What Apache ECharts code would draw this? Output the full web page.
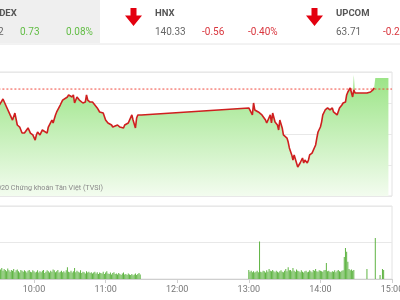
<!DOCTYPE html>
<html><head><meta charset="utf-8">
<script src="https://cdn.jsdelivr.net/npm/echarts@6/dist/echarts.min.js"></script>
<style>html,body{margin:0;padding:0;background:#fff;overflow:hidden}#c{width:400px;height:300px}</style>
</head><body><div id="c"></div>
<script>
// ---- header data ----
const indexNames = ["VN-INDEX", "HNX", "UPCOM"];
const indexValues = ["913.62", "140.33", "63.71"];
const indexChanges = ["0.73", "-0.56", "-0.24"];
const indexPercents = ["0.08%", "-0.40%", "-0.38%"];
const indexUp = [true, false, false];

// ---- intraday price (VN-INDEX) ----
const refPrice = 912.90;
const priceTimes = ["09:30","09:34","09:37","09:40","09:42","09:44","09:46","09:48","09:50","09:52","09:55","09:57","09:59","10:01","10:02","10:03","10:05","10:07","10:11","10:12","10:13","10:15","10:16","10:18","10:19","10:22","10:24","10:28","10:29","10:32","10:33","10:34","10:36","10:38","10:41","10:43","10:44","10:45","10:47","10:49","10:53","10:55","10:58","11:00","11:02","11:05","11:06","11:10","11:12","11:15","11:16","11:19","11:22","11:23","11:25","11:26","11:27","11:30",
"13:00","13:01","13:03","13:04","13:05","13:08","13:11","13:14","13:15","13:16","13:18","13:19","13:20","13:22","13:24","13:25","13:26","13:28","13:29","13:32","13:33","13:34","13:36","13:37","13:38","13:40","13:41","13:43","13:45","13:46","13:47","13:49","13:50","13:51","13:53","13:54","13:56","13:57","13:58","14:00","14:01","14:02","14:04","14:06","14:08","14:10","14:11","14:12","14:14","14:15","14:16","14:18","14:19","14:21","14:22","14:23","14:25","14:26","14:27","14:28","14:29","14:31","14:33","14:39","14:42","14:44","14:45"];
const priceValues = [911.74,912.26,911.74,911.23,910.90,911.35,910.58,910.45,910.06,910.06,910.39,910.06,909.94,909.61,909.94,910.13,909.94,910.26,910.06,910.45,910.45,910.90,910.71,911.23,911.42,911.87,912.19,912.39,912.52,912.39,912.52,912.00,912.39,912.19,912.00,912.06,912.52,912.19,912.06,912.06,911.68,911.42,911.35,910.90,910.71,910.58,910.45,910.58,910.45,910.39,910.58,910.71,911.23,910.90,910.39,911.03,911.23,911.23,
911.68,911.68,911.23,912.00,911.55,911.42,911.23,910.90,910.71,910.71,911.23,910.71,911.35,910.77,910.58,910.26,910.90,910.39,909.94,909.74,909.48,909.10,908.65,908.32,908.65,908.13,907.87,908.13,908.45,908.13,908.32,908.13,908.32,908.65,908.77,908.84,909.29,909.74,910.13,910.45,910.77,911.23,911.55,911.68,911.55,911.68,911.42,911.35,911.23,911.35,911.68,911.87,912.00,912.06,912.52,912.71,912.97,913.03,912.39,912.84,912.65,912.65,912.65,912.65,912.71,912.84,912.97];
// points that only the filled area shows (spike + closing auction block)
const areaExtraTimes = ["14:28", "14:46", "14:57"];
const areaExtraValues = [913.80, 913.62, 913.62];

// ---- volume ----
const volAMStart = "09:32";
const volAM = [105,120,90,110,100,85,115,95,80,100,
90,110,75,95,105,85,70,100,90,80,
95,85,70,90,100,80,75,95,85,70,
80,95,70,85,75,90,100,65,80,95,
85,70,90,80,105,95,75,85,100,70,
80,90,75,85,70,95,130,80,75,90,
70,85,120,75,90,80,70,95,65,80,
75,60,85,70,80,65,75,60,70,80,
60,75,55,70,65,60,80,55,70,85,
60,55,70,50,65,75,55,60,50,65,
55,45,60,70,50,55,45,60,50,45,
55,40,50,60,45,55,65,50];
const volPMStart = "13:00";
const volPM = [100,80,90,75,85,70,80,90,75,410,
80,75,90,85,70,95,80,110,90,85,
100,85,75,90,80,70,85,95,80,75,
90,110,85,130,95,100,85,120,90,80,
105,90,85,75,95,80,70,85,90,75,
80,95,85,75,100,90,110,85,80,95,
90,85,80,95,100,175,85,90,80,75,
85,80,95,75,90,100,85,80,90,95,
240,340,300,190,110,95,105,90,100];
const volATCTimes = ["14:39", "14:46", "14:50", "14:52", "14:53"];
const volATC = [110, 450, 45, 110, 100];

const timeTicks = ["09:00","10:00","11:00","12:00","13:00","14:00","15:00"];
const copyright = "©2020 Chứng khoán Tân Việt (TVSI)";

// ---- helpers ----
const toMin = s => { const p = s.split(":"); return (+p[0]) * 60 + (+p[1]); };
const fmt = m => { const h = Math.floor(m / 60), mm = Math.round(m % 60); return (h < 10 ? "0" : "") + h + ":" + (mm < 10 ? "0" : "") + mm; };

const lineData = priceTimes.map((t, i) => [toMin(t), priceValues[i]]);
const areaMap = new Map();
priceTimes.forEach((t, i) => areaMap.set(toMin(t), priceValues[i]));
areaExtraTimes.forEach((t, i) => areaMap.set(toMin(t), areaExtraValues[i]));
const areaData = Array.from(areaMap.entries()).sort((a, b) => a[0] - b[0]);

const volData = [];
volAM.forEach((v, i) => volData.push([toMin(volAMStart) + i, v]));
volPM.forEach((v, i) => volData.push([toMin(volPMStart) + i, v]));
volATCTimes.forEach((t, i) => volData.push([toMin(t), volATC[i]]));

const xMin = toMin(timeTicks[0]), xMax = toMin(timeTicks[timeTicks.length - 1]);
const refData = [[xMin, refPrice], [xMax, refPrice]];
const gridLeft = -37.6, gridRight = 8;

// ---- header graphics ----
const green = '#62bd45', red = '#d9363e';
const colX = [-27, 155, 336];
const graphics = [
  { type: 'rect', shape: { x: 0, y: 0, width: 100, height: 43 }, style: { fill: '#efefef' }, silent: true },
  { type: 'line', shape: { x1: 0, y1: 44, x2: 400, y2: 44 }, style: { stroke: '#e6e6e6', lineWidth: 1 }, silent: true }
];
indexNames.forEach((n, i) => {
  const x = colX[i];
  const c = indexUp[i] ? green : red;
  graphics.push({ type: 'text', x: x, y: 13.5, style: { text: n, fill: '#555', font: 'bold 9.5px Roboto', textVerticalAlign: 'middle' }, silent: true });
  graphics.push({ type: 'text', x: x, y: 32, style: { text: indexValues[i], fill: '#666', font: '10px Roboto', textVerticalAlign: 'middle' }, silent: true });
  graphics.push({ type: 'text', x: x + 47, y: 32, style: { text: indexChanges[i], fill: c, font: '10px Roboto', textVerticalAlign: 'middle' }, silent: true });
  graphics.push({ type: 'text', x: x + 93, y: 32, style: { text: indexPercents[i], fill: c, font: '10px Roboto', textVerticalAlign: 'middle' }, silent: true });
  if (!indexUp[i]) {
    const cx = x - 21.5;
    graphics.push({ type: 'polygon', shape: { points: [[cx - 3, 8], [cx + 3, 8], [cx + 3, 15.5], [cx + 8.5, 15.5], [cx, 26], [cx - 8.5, 15.5], [cx - 3, 15.5]] }, style: { fill: '#e3000f' }, silent: true });
  }
});
graphics.push({ type: 'text', x: 103, y: 188, style: { text: copyright, fill: '#8a8a8a', font: '7.2px Roboto', textAlign: 'right', textVerticalAlign: 'middle' }, silent: true, z: 10 });

const chart = echarts.init(document.getElementById('c'), null, { renderer: 'canvas' });
chart.setOption({
  animation: false,
  backgroundColor: '#fff',
  grid: [
    { left: gridLeft, right: gridRight, top: 72, height: 124, outerBoundsMode: 'none', containLabel: false, show: true, borderColor: '#e2e2e2', borderWidth: 1, backgroundColor: 'transparent' },
    { left: gridLeft, right: gridRight, top: 206, height: 73, outerBoundsMode: 'none', containLabel: false, show: true, borderColor: '#e2e2e2', borderWidth: 1, backgroundColor: 'transparent' }
  ],
  xAxis: [
    { type: 'value', gridIndex: 0, min: xMin, max: xMax, show: false },
    { type: 'value', gridIndex: 1, min: xMin, max: xMax, interval: 60,
      axisLine: { lineStyle: { color: '#cfcfcf' } },
      axisTick: { show: true, length: 4, lineStyle: { color: '#cfcfcf' } },
      axisLabel: { fontSize: 9, color: '#777', margin: 6, fontFamily: 'Roboto', formatter: v => fmt(v), showMaxLabel: true, hideOverlap: false },
      splitLine: { show: false } }
  ],
  yAxis: [
    { type: 'value', gridIndex: 0, min: 906, max: 914, interval: 2,
      axisLine: { show: false }, axisTick: { show: false }, axisLabel: { show: false },
      splitLine: { lineStyle: { color: '#e8e8e8' } } },
    { type: 'value', gridIndex: 1, min: 0, max: 800, interval: 400,
      axisLine: { show: false }, axisTick: { show: false }, axisLabel: { show: false },
      splitLine: { lineStyle: { color: '#e8e8e8' } } }
  ],
  series: [
    { type: 'line', xAxisIndex: 0, yAxisIndex: 0, data: areaData, showSymbol: false, silent: true,
      lineStyle: { width: 0 },
      areaStyle: { origin: 'start', opacity: 1, color: new echarts.graphic.LinearGradient(0, 0, 0, 1, [{ offset: 0, color: '#9ae485' }, { offset: 1, color: '#f3fcef' }]) },
      z: 1 },
    { type: 'line', xAxisIndex: 0, yAxisIndex: 0, data: refData, showSymbol: false, silent: true,
      lineStyle: { color: '#f0483c', type: [2, 2], width: 1 }, z: 2 },
    { type: 'line', xAxisIndex: 0, yAxisIndex: 0, data: lineData, showSymbol: false, silent: true,
      lineStyle: { color: '#cf1f1f', width: 1.6 }, z: 3 },
    { type: 'bar', xAxisIndex: 1, yAxisIndex: 1, data: volData, barWidth: 1, silent: true,
      itemStyle: { color: '#5fb443' } }
  ],
  graphic: graphics
});
</script>
</body></html>
